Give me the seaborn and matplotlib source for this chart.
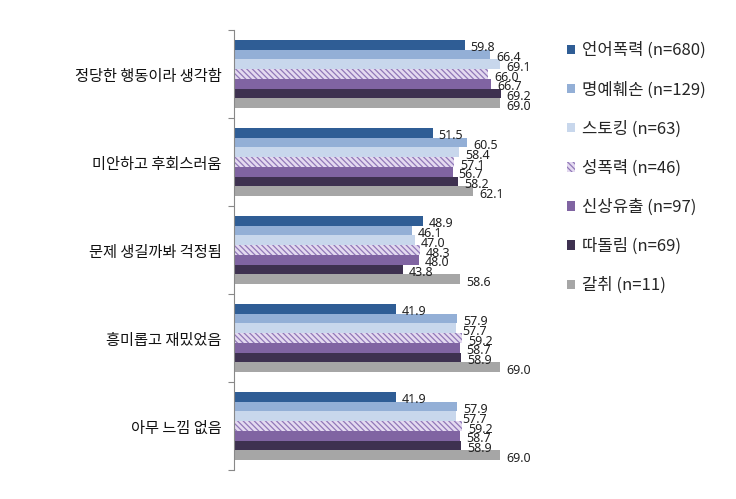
import matplotlib
matplotlib.use("Agg")
import matplotlib.pyplot as plt
import seaborn as sns
import pandas as pd
from matplotlib.patches import Patch

categories = ["정당한 행동이라 생각함", "미안하고 후회스러움", "문제 생길까봐 걱정됨",
              "흥미롭고 재밌었음", "아무 느낌 없음"]
series = ["언어폭력 (n=680)", "명예훼손 (n=129)", "스토킹 (n=63)", "성폭력 (n=46)",
          "신상유출 (n=97)", "따돌림 (n=69)", "갈취 (n=11)"]
values = {
    "언어폭력 (n=680)": [59.8, 51.5, 48.9, 41.9, 41.9],
    "명예훼손 (n=129)": [66.4, 60.5, 46.1, 57.9, 57.9],
    "스토킹 (n=63)":   [69.1, 58.4, 47.0, 57.7, 57.7],
    "성폭력 (n=46)":   [66.0, 57.1, 48.3, 59.2, 59.2],
    "신상유출 (n=97)": [66.7, 56.7, 48.0, 58.7, 58.7],
    "따돌림 (n=69)":   [69.2, 58.2, 43.8, 58.9, 58.9],
    "갈취 (n=11)":     [69.0, 62.1, 58.6, 69.0, 69.0],
}
colors = ["#2F5D95", "#93AFD6", "#C8D7EC", "#E4DAF0", "#8064A2", "#3E3150", "#A6A6A6"]

rows = []
for s in series:
    for c, v in zip(categories, values[s]):
        rows.append({"cat": c, "series": s, "val": v})
df = pd.DataFrame(rows)

sns.set_theme(style="white")
plt.rcParams["font.family"] = ["Noto Sans CJK KR", "DejaVu Sans"]
plt.rcParams["hatch.linewidth"] = 0.9

fig = plt.figure(figsize=(7.36, 4.99), dpi=100)
ax = fig.add_axes([234/736, (499-470)/499, 85*3.855/736, 440/499])

sns.barplot(data=df, y="cat", x="val", hue="series", orient="h",
            order=categories, hue_order=series, palette=colors,
            width=0.77, gap=0, saturation=1, linewidth=0, legend=False, ax=ax)

hatch_color = "#9178B8"
hatch = "\\\\\\\\\\\\"
for i, cont in enumerate(ax.containers):
    for bar in cont:
        if i == 3:
            bar.set_hatch(hatch)
            bar.set_edgecolor(hatch_color)
            bar.set_linewidth(0)
        w = bar.get_width()
        y = bar.get_y() + bar.get_height() / 2
        ax.annotate(f"{w:.1f}", xy=(w, y), xytext=(6, -3), textcoords="offset pixels",
                    ha="left", va="center", fontsize=9, color="#222222",
                    family=["Noto Sans", "DejaVu Sans"])

ax.set_xlim(0, 85)
ax.set_ylim(4.5, -0.5)
ax.set_xlabel("")
ax.set_ylabel("")
ax.set_xticks([])
ax.set_yticks(range(len(categories)))
ax.set_yticklabels(categories, fontsize=11, color="#111111")
ax.set_yticks([i - 0.5 for i in range(len(categories) + 1)], minor=True)
ax.tick_params(axis="y", which="major", length=0, pad=9)
ax.tick_params(axis="y", which="minor", length=4, width=0.8, color="#888888", left=True)
for side in ["top", "right", "bottom"]:
    ax.spines[side].set_visible(False)
ax.spines["left"].set_color("#888888")
ax.spines["left"].set_linewidth(0.8)

handles = []
for i, (s, c) in enumerate(zip(series, colors)):
    if i == 3:
        handles.append(Patch(facecolor=c, edgecolor=hatch_color, hatch=hatch, linewidth=0, label=s))
    else:
        handles.append(Patch(facecolor=c, linewidth=0, label=s))
fig.legend(handles=handles, loc="upper left", bbox_to_anchor=(567/736, (499-42)/499),
           frameon=False, fontsize=12, handlelength=0.5, handleheight=0.5,
           handletextpad=0.4, labelspacing=1.32, borderpad=0, borderaxespad=0)

fig.savefig("out.png", dpi=100, facecolor="white")
